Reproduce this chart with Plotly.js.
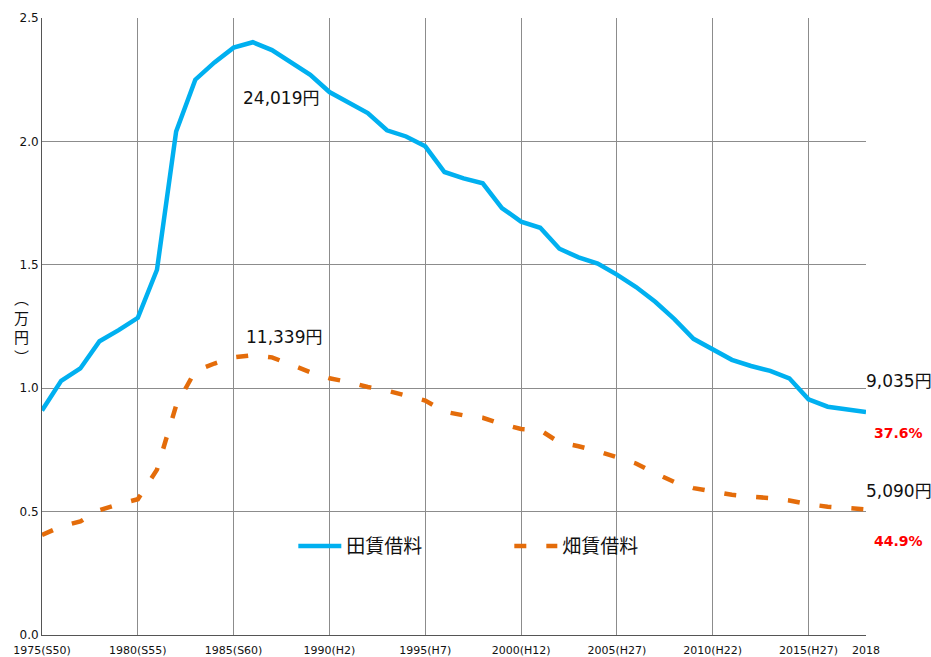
<!DOCTYPE html>
<html>
<head>
<meta charset="utf-8">
<script src="https://cdn.plot.ly/plotly-3.0.1.min.js"></script>
<style>html,body{margin:0;padding:0;background:#fff;}#chart{width:931px;height:657px;}</style>
</head>
<body>
<div id="chart"></div>
<script>
const years = [1975,1976,1977,1978,1979,1980,1981,1982,1983,1984,1985,1986,1987,1988,1989,1990,1991,1992,1993,1994,1995,1996,1997,1998,1999,2000,2001,2002,2003,2004,2005,2006,2007,2008,2009,2010,2011,2012,2013,2014,2015,2016,2017,2018];
// 田賃借料 (万円)
const paddyRent = [0.91,1.03,1.08,1.19,1.235,1.285,1.48,2.04,2.25,2.32,2.38,2.4019,2.37,2.32,2.27,2.20,2.16,2.115,2.045,2.02,1.98,1.876,1.85,1.83,1.73,1.675,1.65,1.565,1.53,1.505,1.46,1.41,1.35,1.28,1.20,1.155,1.115,1.09,1.07,1.04,0.955,0.925,0.915,0.9035];
// 畑賃借料 (万円)
const fieldRent = [0.405,0.44,0.46,0.506,0.53,0.55,0.67,0.93,1.07,1.10,1.125,1.1339,1.125,1.095,1.065,1.04,1.025,1.005,0.99,0.97,0.95,0.905,0.89,0.88,0.855,0.835,0.83,0.78,0.765,0.745,0.72,0.695,0.655,0.62,0.595,0.58,0.568,0.56,0.555,0.545,0.53,0.52,0.513,0.509];
const seriesNames = ['田賃借料','畑賃借料'];
const tickYears = [1975,1980,1985,1990,1995,2000,2005,2010,2015];
const tickLabels = ['1975(S50)','1980(S55)','1985(S60)','1990(H2)','1995(H7)','2000(H12)','2005(H27)','2010(H22)','2015(H27)'];
const lastYearLabel = '2018';
const peakLabels = ['24,019円','11,339円'];
const endLabels = ['9,035円','5,090円'];
const changeLabels = ['37.6%','44.9%'];
const unitLabel = '︵<br>万<br>円<br>︶';

const jp = '"Noto Sans CJK JP", "DejaVu Sans", sans-serif';
const num = '"DejaVu Sans", "Noto Sans CJK JP", sans-serif';

const traces = [
  {x: years, y: paddyRent, name: seriesNames[0], type: 'scatter', mode: 'lines',
   line: {color: '#00B0F0', width: 4.5}},
  {x: years, y: fieldRent, name: seriesNames[1], type: 'scatter', mode: 'lines',
   line: {color: '#E46C0A', width: 4.5, dash: '12px,20px'}}
];

const valFont = {family: num, size: 17, color: '#111'};
const redFont = {family: '"DejaVu Sans", sans-serif', size: 14, color: '#FF0000', weight: 'bold'};
const txt = (x, y, text, opts) => Object.assign({
  x: x, y: y, xref: 'x', yref: 'y', text: text, showarrow: false, font: valFont
}, opts || {});

const annotations = [
  txt(years[11], paddyRent[11], peakLabels[0], {yshift: -56, xshift: 28}),
  txt(years[11], fieldRent[11], peakLabels[1], {yshift: 18, xshift: 31}),
  txt(years[43], paddyRent[43], endLabels[0], {xanchor: 'left', xshift: -2, yshift: 31}),
  txt(years[43], paddyRent[43], changeLabels[0], {xanchor: 'left', xshift: 6, yshift: -21, font: redFont}),
  txt(years[43], fieldRent[43], endLabels[1], {xanchor: 'left', xshift: -2, yshift: 18}),
  txt(years[43], fieldRent[43], changeLabels[1], {xanchor: 'left', xshift: 6, yshift: -32, font: redFont}),
  {x: years[43], y: 0, xref: 'x', yref: 'paper', text: lastYearLabel, showarrow: false,
   yanchor: 'top', yshift: -7, font: {family: '"DejaVu Sans", sans-serif', size: 11, color: '#111'}},
  {x: -0.025, y: 0.497, xref: 'paper', yref: 'paper', text: unitLabel, showarrow: false,
   font: {family: num, size: 15, color: '#111'}, xanchor: 'center', yanchor: 'middle'}
];

const layout = {
  width: 931, height: 657,
  margin: {l: 42, r: 65, t: 18, b: 22},
  paper_bgcolor: '#fff', plot_bgcolor: '#fff',
  showlegend: true,
  legend: {orientation: 'h', x: 0.305, y: 0.144, xanchor: 'left', yanchor: 'middle',
           itemwidth: 43, entrywidth: 158, bgcolor: 'rgba(0,0,0,0)',
           font: {family: jp, size: 19, color: '#111'}},
  xaxis: {range: [1975, 2018], tickmode: 'array', tickvals: tickYears, ticktext: tickLabels,
          showgrid: true, gridcolor: '#8c8c8c', gridwidth: 1, zeroline: false,
          showline: true, linecolor: '#555', linewidth: 1, ticks: '', ticklabelstandoff: 5,
          tickfont: {family: '"DejaVu Sans", sans-serif', size: 11, color: '#111'}},
  yaxis: {range: [0, 2.5], dtick: 0.5, tickformat: '.1f',
          showgrid: true, gridcolor: '#8c8c8c', gridwidth: 1, zeroline: false,
          showline: true, linecolor: '#555', linewidth: 1, ticks: '',
          tickfont: {family: '"DejaVu Sans", sans-serif', size: 12, color: '#111'}},
  annotations: annotations
};

Plotly.newPlot('chart', traces, layout, {displayModeBar: false, staticPlot: true});
</script>
</body>
</html>
